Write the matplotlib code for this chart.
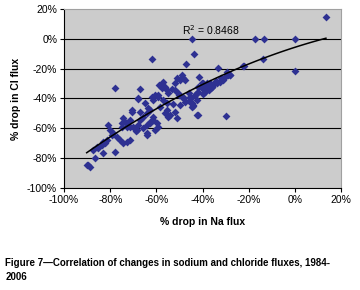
import matplotlib.pyplot as plt
import numpy as np

plt.rcParams['font.family'] = ['Liberation Sans', 'DejaVu Sans']

# % drop in Na flux (x) and % drop in Cl flux (y)
na_drop = [13.5, -44.5, -43.7, -47, -17.2, -13.2, -13.9, 0.1, 0, -22, -33.1, -30, -41.8, -28,
           -36, -41.4, -49, -47.6, -45.4, -46, -44, -44.7, -42, -39.8, -38.2, -40.3,
           -62, -77.9, -67, -67.8, -64.2, -57, -56.2, -59, -51.2, -52, -54.8, -50,
           -48.3, -49.7, -40.3, -41.8, -46, -57.7, -55.5, -53.4, -60.6, -61.3, -59.1,
           -64.9, -63.5, -67, -70.7, -67.8, -74.3, -72.8, -71.4, -75, -55.5, -54.1, -52, -51.2,
           -61.3, -62.7, -59.8, -64.2, -43.2, -42.5, -44.7, -38.2, -38.9, -36.7, -42.5,
           -49, -47.6, -49.7, -52, -50.5,
           -89.5, -88.7, -90.2, -86.6, -87.3, -85.8, -85.1, -83, -77.9, -83.7, -82.2, -81.5, -83,
           -80.8, -80.1, -79.3, -78.6, -77.2, -75.7, -74.3, -72.8, -71.4, -75, -73.6, -71.4, -70.7,
           -72.8, -70, -68.5, -67.8, -64.2, -67, -65.6, -64.2, -62.7, -62.7, -61.3, -60.6, -59.1,
           -58.4, -57, -55.5, -59.1, -62, -56.2, -54.8,
           -29.5, -28.8, -30.2, -31, -32.4, -33.8, -28, -22.3, -36, -42.5, -44, -39.6, -38.9,
           -34, -32, -35, -37, -69, -66, -53, -48, -45, -40]
cl_drop = [14.4, -0.3, -10.2, -17, -0.3, -0.3, -13.5, -0.3, -21.6, -18.2, -19.8, -51.5, -51, -24,
           -32.5, -25.4, -24, -27.6, -38.8, -42, -45, -45.5, -35.4, -32, -29.8, -33.1,
           -13.5, -33.2, -33.8, -40.5, -64.4, -28.7, -32, -31, -26.4, -29.8, -36.5, -38,
           -26.4, -27.6, -29.8, -32, -36.5, -33.1, -34.3, -33.8, -37.6, -41, -38.8,
           -43.2, -46.5, -48.8, -47.7, -39.9, -53.3, -56.6, -58.9, -58.9, -47.7, -51, -48.8, -53.3,
           -52.2, -55.5, -56.6, -57.8, -37.6, -41, -43.2, -32, -35.4, -29.8, -51,
           -38.8, -42.1, -44.3, -34.3, -36.5,
           -84.6, -85.7, -84.6, -80, -74.5, -72.3, -73.4, -76.7, -75.6, -71.2, -70, -67.8, -68.9,
           -57.8, -61.1, -64.4, -63.3, -65.6, -67.8, -70, -68.9, -67.8, -56.6, -55.5, -54.4, -48.8,
           -58.9, -58.9, -61.1, -57.8, -63.3, -54.4, -52.2, -49.9, -47.7, -56.6, -54.4, -61.1, -58.9,
           -45.5, -41, -43.2, -37.6, -38.8, -49.9, -52.2,
           -22, -24.2, -25.4, -27.6, -28.7, -29.8, -24.2, -18.2, -32, -36.5, -44.3, -29.8, -33.1,
           -28, -26, -30, -34, -62, -60, -44, -40, -40, -37]

x_ticks = [-100, -80, -60, -40, -20, 0, 20]
y_ticks = [-100, -80, -60, -40, -20, 0, 20]

x = np.array(na_drop)
y = np.array(cl_drop)
coef = np.polyfit(x, y, 2)
xs = np.linspace(x.min(), x.max(), 100)

fig = plt.figure(figsize=(3.6, 2.9), dpi=100)
ax = fig.add_axes([0.178, 0.352, 0.769, 0.617])
ax.set_facecolor('#cccccc')
for yt in y_ticks[1:-1]:
    ax.axhline(yt, color='black', lw=0.8, zorder=1)
ax.scatter(x, y, marker='D', s=16, color='#2e3192', linewidths=0, zorder=2)
ax.plot(xs, np.polyval(coef, xs), color='black', lw=1.1, zorder=3)
ax.text(-49, 6, 'R$^2$ = 0.8468', fontsize=7.5, va='center', ha='left')

ax.set_xlim(-100, 20)
ax.set_ylim(-100, 20)
ax.set_xticks(x_ticks)
ax.set_yticks(y_ticks)
ax.set_xticklabels([f'{v}%' for v in x_ticks])
ax.set_yticklabels([f'{v}%' for v in y_ticks])
ax.tick_params(labelsize=7.5, length=3, width=0.8, direction='out', pad=2)
for s in ['top', 'right']:
    ax.spines[s].set_color('#a0a0a0')
    ax.spines[s].set_linewidth(0.8)

ax.set_xlabel('% drop in Na flux', fontsize=7.5, fontweight='bold', labelpad=9)
ax.set_ylabel('% drop in Cl flux', fontsize=7.5, fontweight='bold', labelpad=4)

fig.text(0.015, 0.07, 'Figure 7\u2014Correlation of changes in sodium and chloride fluxes, 1984-\n2006',
         fontsize=7, fontweight='bold', ha='left', va='center', linespacing=1.45)

fig.savefig('out.png', dpi=100)
